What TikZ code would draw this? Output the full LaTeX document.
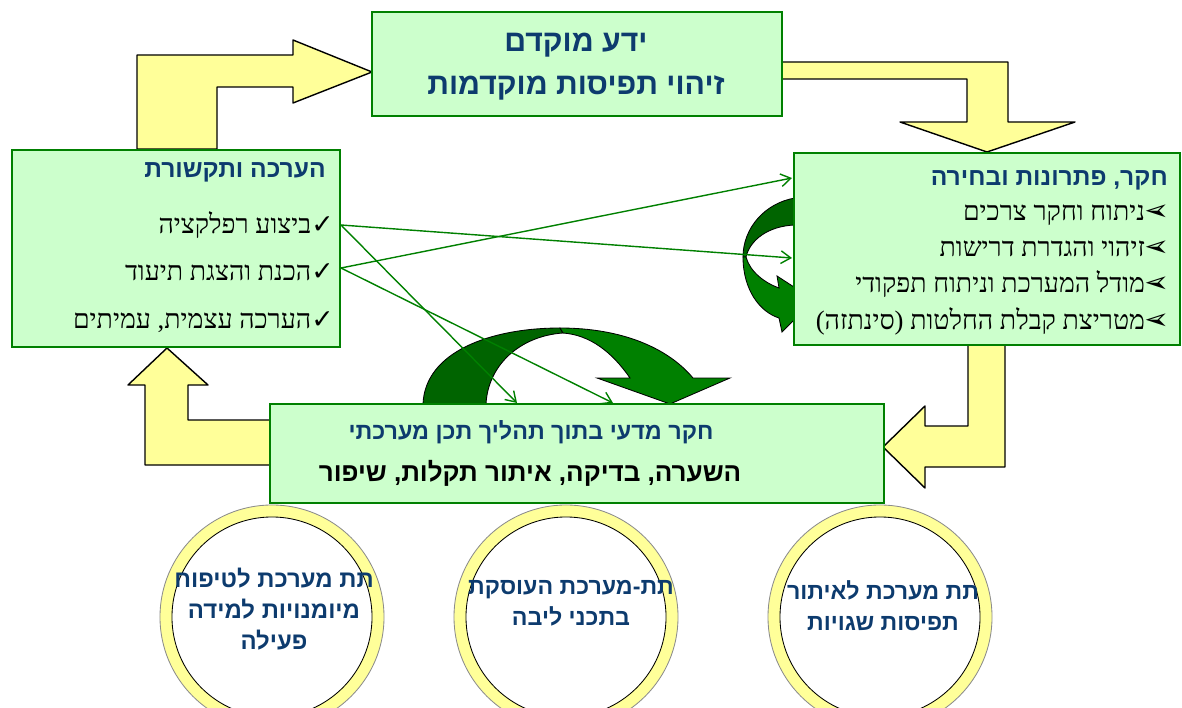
\documentclass[tikz,border=0pt]{standalone}
\usepackage{fontspec}
\usepackage{graphicx}
\usetikzlibrary{arrows.meta}
\TeXXeTstate=1
\newfontfamily\hebsans[Script=Hebrew]{Liberation Sans}
\newfontfamily\hebserif[Script=Hebrew]{Liberation Serif}
\newfontfamily\symfont{DejaVu Sans}
\definecolor{boxgreen}{HTML}{CCFFCC}
\definecolor{edgegreen}{HTML}{008000}
\definecolor{backgreen}{HTML}{006400}
\definecolor{pale}{HTML}{FFFF99}
\definecolor{navy}{HTML}{0D3B6E}
\newcommand{\chk}{{\symfont ✓}}
\newcommand{\tipmark}{{\symfont\fontsize{21}{21}\selectfont\reflectbox{➢}}}
\tikzset{
  stage/.style={draw=edgegreen, line width=2pt, fill=boxgreen, inner sep=0pt},
  head/.style={font=\hebsans\bfseries\fontsize{17.5}{20}\selectfont, text=navy, inner sep=0pt},
  item/.style={font=\hebserif\fontsize{19}{22}\selectfont, anchor=east, inner sep=0pt},
  bigarrow/.style={fill=pale, draw=black, line width=1pt, line join=round},
  backarc/.style={fill=backgreen, draw=black, line width=0.6pt},
  frontarc/.style={fill=edgegreen, draw=black, line width=0.6pt},
  ringtext/.style={font=\hebsans\bfseries\fontsize{16.5}{22}\selectfont, text=navy, align=center, inner sep=0pt},
  link/.style={edgegreen, line width=1pt, -{Straight Barb[length=7pt,width=9pt]}}
}
\begin{document}
\begin{tikzpicture}[x=0.025cm, y=-0.025cm]
  \useasboundingbox (0,0) rectangle (1182,708);

  % rings
  \foreach \cx/\nm in {272/ringA, 566/ringB, 880/ringC}{
    \fill[pale, even odd rule] (\cx,617) circle[radius=2.8cm] circle[radius=2.5cm];
    \draw[black!45, line width=0.6pt] (\cx,617) circle[radius=2.8cm];
    \draw[black, line width=0.6pt] (\cx,617) circle[radius=2.5cm];
    \coordinate (\nm) at (\cx,617);
  }

  % yellow arrows
  \draw[bigarrow] (137,149) -- (137,55) -- (293,55) -- (293,40) -- (372,72) -- (293,103) -- (293,87) -- (217,87) -- (217,149) -- cycle;
  \draw[bigarrow] (782,62) -- (1008,62) -- (1008,122) -- (1075,122) -- (987,152) -- (900,122) -- (967,122) -- (967,79) -- (782,79) -- cycle;
  \draw[bigarrow] (1005,345) -- (1005,467) -- (925,467) -- (925,488) -- (883,447) -- (925,406) -- (925,426) -- (968,426) -- (968,345) -- cycle;
  \draw[bigarrow] (270,465) -- (145,465) -- (145,385) -- (128,385) -- (167,348) -- (208,385) -- (188,385) -- (188,420) -- (270,420) -- cycle;

  % green curved arrows
  \draw[backarc] (423,404) .. controls (425,352) and (490,328) .. (560,328) -- (563,333) .. controls (520,336) and (488,365) .. (486,404) -- cycle;
  \draw[frontarc] (560,328) .. controls (622,328) and (668,348) .. (693,378) -- (730,378) -- (670,404) -- (597,378) -- (630,378) .. controls (612,352) and (590,335) .. (563,333) -- cycle;
  \draw[backarc] (795,198) .. controls (765,203) and (743,228) .. (743,257) -- (746,257) .. controls (750,240) and (768,226) .. (795,225) -- cycle;
  \draw[frontarc] (743,257) .. controls (743,290) and (760,312) .. (779,318) -- (782,332) -- (814,300) -- (777,276) -- (779,288) .. controls (765,283) and (750,272) .. (746,257) -- cycle;

  % boxes
  \node[stage, minimum width=10.25cm, minimum height=2.6cm] (prior) at (577,64) {};
  \node[stage, minimum width=8.2cm, minimum height=4.925cm] (assess) at (176,248.5) {};
  \node[stage, minimum width=9.65cm, minimum height=4.8cm] (research) at (987,249) {};
  \node[stage, minimum width=15.35cm, minimum height=2.475cm] (design) at (577,453.5) {};

  % texts
  \node[head, font=\hebsans\bfseries\fontsize{21.5}{24}\selectfont] (priorA) at (576,45) {\beginR ידע מוקדם\endR};
  \node[head, font=\hebsans\bfseries\fontsize{21.5}{24}\selectfont] (priorB) at (576,88) {\beginR זיהוי תפיסות מוקדמות\endR};

  \node[head, anchor=east] (assessT) at (326,172) {\beginR הערכה ותקשורת\endR};
  \node[item] (assessA) at (334,225) {\beginR\chk ביצוע רפלקציה\endR};
  \node[item] (assessB) at (334,272) {\beginR\chk הכנת והצגת תיעוד\endR};
  \node[item] (assessC) at (334,322) {\beginR\chk הערכה עצמית, עמיתים\endR};

  \node[head, anchor=east] (researchT) at (1168,180) {\beginR חקר, פתרונות ובחירה\endR};
  \node[item] (researchA) at (1170,215) {\beginR ניתוח וחקר צרכים\endR\tipmark};
  \node[item] (researchB) at (1170,249) {\beginR זיהוי והגדרת דרישות\endR\tipmark};
  \node[item] (researchC) at (1170,284) {\beginR מודל המערכת וניתוח תפקודי\endR\tipmark};
  \node[item] (researchD) at (1170,321) {\beginR מטריצת קבלת החלטות (סינתזה)\endR\tipmark};

  \node[head, font=\hebsans\bfseries\fontsize{16.6}{20}\selectfont] (designA) at (531,432) {\beginR חקר מדעי בתוך תהליך תכן מערכתי\endR};
  \node[head, text=black, font=\hebsans\bfseries\fontsize{18.5}{22}\selectfont] (designB) at (530,473) {\beginR השערה, בדיקה, איתור תקלות, שיפור\endR};

  \node[ringtext, font=\hebsans\bfseries\fontsize{17}{22}\selectfont] (ringAT) at (274,609) {\beginR תת מערכת לטיפוח\endR\\ \beginR מיומנויות למידה\endR\\ \beginR פעילה\endR};
  \node[ringtext] (ringBT) at (571,603) {\beginR תת-מערכת העוסקת\endR\\ \beginR בתכני ליבה\endR};
  \node[ringtext] (ringCT) at (883,606) {\beginR תת מערכת לאיתור\endR\\ \beginR תפיסות שגויות\endR};

  % links
  \coordinate (fromA) at (341,225);
  \coordinate (fromB) at (341,268);
  \coordinate (toUp) at (792,178);
  \coordinate (toMid) at (792,258);
  \coordinate (toLow) at (517,403);
  \coordinate (toLowR) at (613,403);
  \draw[link] (fromA) -- (toMid);
  \draw[link] (fromA) -- (toLow);
  \draw[link] (fromB) -- (toUp);
  \draw[link] (fromB) -- (toLowR);
\end{tikzpicture}
\end{document}
